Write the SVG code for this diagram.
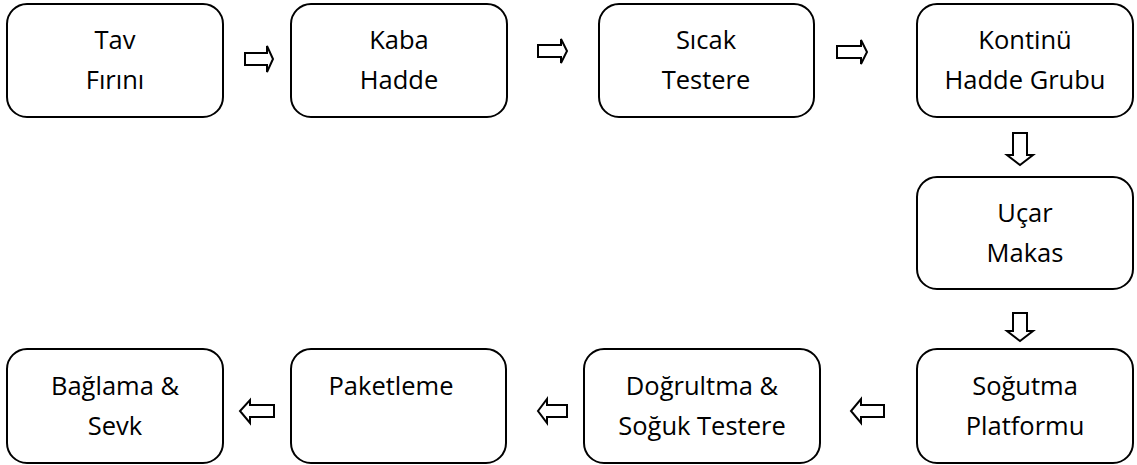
<svg xmlns="http://www.w3.org/2000/svg" width="1137" height="465" viewBox="0 0 1137 465">
<style>
.box{fill:#fff;stroke:#000;stroke-width:2}
.arr{fill:#fff;stroke:#000;stroke-width:2;stroke-linejoin:miter}
text{font-family:"Open Sans","Liberation Sans",sans-serif;font-size:25.5px;fill:#000;text-anchor:middle}
</style>
<rect width="1137" height="465" fill="#fff"/>
<g id="n1"><rect class="box" x="7" y="4" width="216" height="113" rx="20"/><text x="115" y="49">Tav</text><text x="115" y="89">Fırını</text></g>
<g id="n2"><rect class="box" x="291" y="4" width="216" height="113" rx="20"/><text x="399" y="49">Kaba</text><text x="399" y="89">Hadde</text></g>
<g id="n3"><rect class="box" x="599" y="4" width="215" height="113" rx="20"/><text x="706" y="49">Sıcak</text><text x="706" y="89">Testere</text></g>
<g id="n4"><rect class="box" x="917" y="4" width="216" height="113" rx="20"/><text x="1025" y="49">Kontinü</text><text x="1025" y="89">Hadde Grubu</text></g>
<g id="n5"><rect class="box" x="917" y="177" width="216" height="112" rx="20"/><text x="1025" y="222">Uçar</text><text x="1025" y="262">Makas</text></g>
<g id="n6"><rect class="box" x="917" y="349" width="216" height="114" rx="20"/><text x="1025" y="395">Soğutma</text><text x="1025" y="435">Platformu</text></g>
<g id="n7"><rect class="box" x="584" y="349" width="236" height="114" rx="20"/><text x="702" y="395">Doğrultma &amp;</text><text x="702" y="435">Soğuk Testere</text></g>
<g id="n8"><rect class="box" x="291" y="349" width="215" height="114" rx="20"/><text x="391" y="395">Paketleme</text></g>
<g id="n9"><rect class="box" x="7" y="349" width="216" height="114" rx="20"/><text x="115" y="395">Bağlama &amp;</text><text x="115" y="435">Sevk</text></g>
<g id="connectors">
<path class="arr" d="M245,53 H267 V46 L273,59 L267,72 V65 H245 Z"/>
<path class="arr" d="M538,45 H561 V39 L567,51 L561,63 V57 H538 Z"/>
<path class="arr" d="M837,46 H861 V40 L867,52 L861,64 V58 H837 Z"/>
<path class="arr" d="M1013,133 H1027 V155 H1033 L1020,165 L1007,155 H1013 Z"/>
<path class="arr" d="M1013,313 H1027 V331 H1033 L1020,341 L1007,331 H1013 Z"/>
<path class="arr" d="M884,405 H861 V399 L851,411 L861,423 V417 H884 Z"/>
<path class="arr" d="M567,405 H547 V399 L538,411 L547,423 V417 H567 Z"/>
<path class="arr" d="M274,405 H250 V400 L240,411 L250,423 V417 H274 Z"/>
</g>
</svg>
